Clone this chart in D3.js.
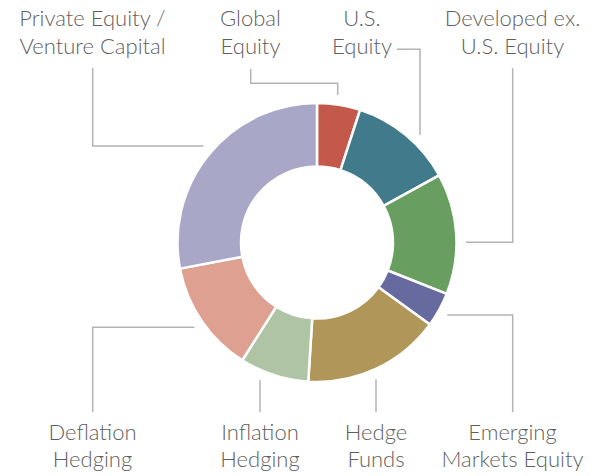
<!DOCTYPE html>
<html>
<head>
<meta charset="utf-8">
<script src="https://cdn.jsdelivr.net/npm/d3@7"></script>
<style>
    body { margin: 0; background: #fff; }
    svg { display: block; }
    .label { font-family: Lato, 'Open Sans', sans-serif; font-size: 22px; font-weight: 300; fill: #5f5f5f; }
    .leader { fill: none; stroke: #b3b3b3; stroke-width: 1.5; }
</style>
</head>
<body>
<svg></svg>
<script>
// allocation slices, clockwise from 12 o'clock
let categories = ['Global Equity', 'U.S. Equity', 'Developed ex. U.S. Equity', 'Emerging Markets Equity',
                  'Hedge Funds', 'Inflation Hedging', 'Deflation Hedging', 'Private Equity / Venture Capital']
let values = [5, 12, 14, 4, 16, 8, 13, 28]
let colors = ['#c4594b', '#417a8b', '#689e5f', '#666a9f', '#b1965a', '#afc4a5', '#dea090', '#a8a7c7']
let labelText = [['Global', 'Equity'], ['U.S.', 'Equity'], ['Developed ex.', 'U.S. Equity'], ['Emerging', 'Markets Equity'],
                 ['Hedge', 'Funds'], ['Inflation', 'Hedging'], ['Deflation', 'Hedging'], ['Private Equity /', 'Venture Capital']]

let width = 600
let height = 476
let cx = 317
let cy = 242.5
let outerR = 139.5
let innerR = 76
let lineR = 149
let lineGap = 27.7

// where each label sits and how its leader line bends (end = last segment direction)
let layout = [
    { x: 250.5, y: 26, pts: [[250.7, 69], [250.7, 83.3], [337.7, 83.3]], end: 'v' },
    { x: 362, y: 26, pts: [[397, 49.3], [420, 49.3]], end: 'v' },
    { x: 512.5, y: 26, pts: [[512.7, 68.3], [512.7, 242.3]], end: 'h' },
    { x: 512.5, y: 439.5, pts: [[512.7, 412], [512.7, 315]], end: 'h' },
    { x: 376, y: 439.5, pts: [[376, 412]], end: 'v' },
    { x: 260, y: 439.5, pts: [[260, 412]], end: 'v' },
    { x: 92.5, y: 439.5, pts: [[92.7, 412], [92.7, 327.3]], end: 'h' },
    { x: 92.5, y: 26, pts: [[92.7, 68], [92.7, 146]], end: 'h' }
]

let svg = d3.select('svg')
    .attr('width', width)
    .attr('height', height)

let pie = d3.pie()
    .sort(null)
    .value((d) => d)

let arc = d3.arc()
    .innerRadius(innerR)
    .outerRadius(outerR)

let arcs = pie(values)

let drawSlices = () => {
    svg.append('g')
        .attr('transform', 'translate(' + cx + ',' + cy + ')')
        .selectAll('path')
        .data(arcs)
        .enter()
        .append('path')
        .attr('d', arc)
        .attr('fill', (d, i) => colors[i])
        .attr('stroke', '#fff')
        .attr('stroke-width', 2.5)
}

// finish the leader on a ring just outside the donut, on the slice's side
let leaderPoints = (item, i) => {
    let pts = item.pts.slice()
    let last = pts[pts.length - 1]
    let mid = (arcs[i].startAngle + arcs[i].endAngle) / 2
    if (item.end === 'v') {
        let dx = last[0] - cx
        let dy = Math.sqrt(lineR * lineR - dx * dx)
        pts.push([last[0], Math.cos(mid) > 0 ? cy - dy : cy + dy])
    } else {
        let dy = last[1] - cy
        let dx = Math.sqrt(lineR * lineR - dy * dy)
        pts.push([Math.sin(mid) > 0 ? cx + dx : cx - dx, last[1]])
    }
    return pts
}

let drawLabels = () => {
    svg.append('g')
        .selectAll('path')
        .data(layout)
        .enter()
        .append('path')
        .attr('class', 'leader')
        .attr('d', (item, i) => d3.line()(leaderPoints(item, i)))

    let text = svg.append('g')
        .selectAll('text')
        .data(layout)
        .enter()
        .append('text')
        .attr('class', 'label')
        .attr('text-anchor', 'middle')

    text.selectAll('tspan')
        .data((item, i) => labelText[i].map((t, j) => ({ t: t, x: item.x, y: item.y + j * lineGap })))
        .enter()
        .append('tspan')
        .attr('x', (d) => d.x)
        .attr('y', (d) => d.y)
        .text((d) => d.t)
}

drawSlices()
drawLabels()
</script>
</body>
</html>
